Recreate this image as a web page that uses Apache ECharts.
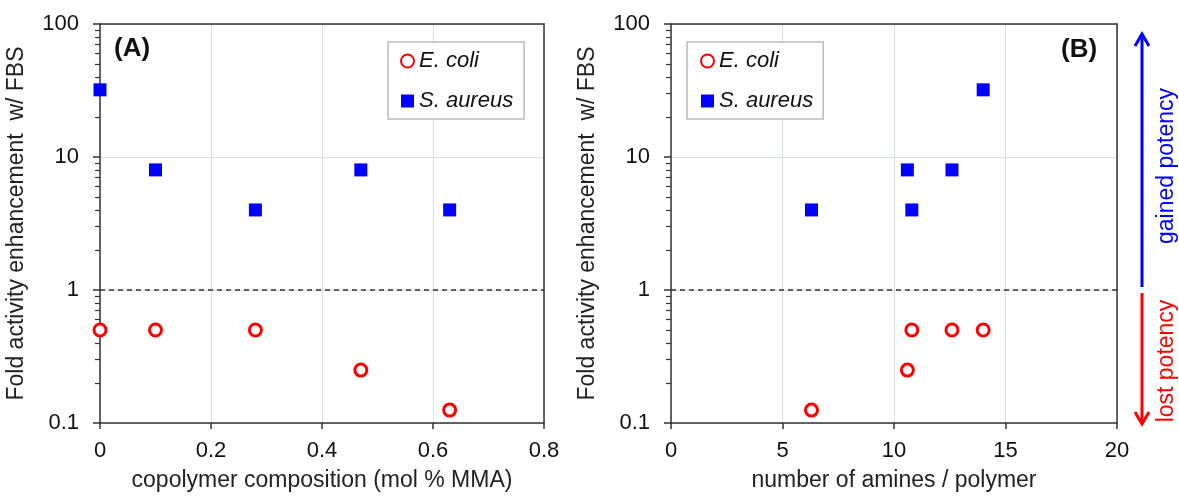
<!DOCTYPE html>
<html>
<head>
<meta charset="utf-8">
<script src="https://cdn.jsdelivr.net/npm/echarts@6/dist/echarts.min.js"></script>
<style>
  html, body { margin: 0; padding: 0; background: #fff; }
  #chart { width: 1179px; height: 497px; }
</style>
</head>
<body>
<div id="chart"></div>
<script>
// data
const compMMA = [0, 0.1, 0.28, 0.47, 0.63]      // mol % MMA (panel A)
const amines = [14.0, 12.6, 10.8, 10.6, 6.3]     // amines / polymer (panel B)
const ecoliFold = [0.5, 0.5, 0.5, 0.25, 0.125]
const saureusFold = [32, 8, 4, 8, 4]

const FONT = "'Liberation Sans', Arial, sans-serif"
const AXIS_COLOR = '#333'

const pairs = (xs, ys) => xs.map((x, i) => [x, ys[i]])

const chart = echarts.init(document.getElementById('chart'))

const xAxisBase = (gridIndex, min, max, interval, name) => ({
  type: 'value',
  gridIndex: gridIndex,
  position: 'bottom',
  min: min,
  max: max,
  interval: interval,
  name: name,
  nameLocation: 'middle',
  nameGap: 46,
  nameTextStyle: { fontSize: 23, color: '#222', fontFamily: FONT },
  axisLine: { show: true, onZero: false, lineStyle: { color: AXIS_COLOR, width: 1.5 } },
  axisTick: { show: true, length: 6, lineStyle: { color: AXIS_COLOR, width: 1.5 } },
  axisLabel: { fontSize: 22, color: '#111', fontFamily: FONT, margin: 17 }
})

// log axis, minor ticks 2..9 in each decade
const yAxisBase = (gridIndex) => ({
  type: 'log',
  gridIndex: gridIndex,
  position: 'left',
  logBase: 10,
  min: 0.1,
  max: 100,
  name: 'Fold activity enhancement  w/ FBS',
  nameLocation: 'middle',
  nameGap: 72,
  nameTextStyle: { fontSize: 23, color: '#222', fontFamily: FONT },
  axisLine: { show: true, lineStyle: { color: AXIS_COLOR, width: 1.5 } },
  axisTick: { show: true, length: 7, lineStyle: { color: AXIS_COLOR, width: 1.5 } },
  minorTick: { show: true, splitNumber: 9, length: 5, lineStyle: { color: AXIS_COLOR, width: 1.2 } },
  axisLabel: { fontSize: 22, color: '#111', fontFamily: FONT, margin: 21 }
})

// plain axes on the top and right side to close the frame
const xFrame = (gridIndex, min, max) => ({
  type: 'value', gridIndex: gridIndex, position: 'top', min: min, max: max,
  axisLine: { show: true, onZero: false, lineStyle: { color: AXIS_COLOR, width: 1.5 } },
  axisTick: { show: false }, axisLabel: { show: false }, splitLine: { show: false }
})
const yFrame = (gridIndex) => ({
  type: 'log', gridIndex: gridIndex, position: 'right', min: 0.1, max: 100,
  axisLine: { show: true, onZero: false, lineStyle: { color: AXIS_COLOR, width: 1.5 } },
  axisTick: { show: false }, axisLabel: { show: false }, splitLine: { show: false }
})

const ecoliStyle = {
  symbol: 'circle',
  symbolSize: 12,
  itemStyle: { color: '#fff', borderColor: '#ff0000', borderWidth: 3, opacity: 1 }
}
const saureusStyle = {
  symbol: 'rect',
  symbolSize: 13,
  itemStyle: { color: '#0000ff', opacity: 1 }
}

const refLine = {
  silent: true,
  symbol: 'none',
  label: { show: false },
  lineStyle: { color: AXIS_COLOR, type: [5, 4], width: 1.5 },
  data: [{ yAxis: 1 }]
}

const legendBase = {
  orient: 'vertical',
  top: 42,
  itemWidth: 13,
  itemHeight: 13,
  itemGap: 16,
  backgroundColor: '#fff',
  borderColor: '#bbb',
  borderWidth: 1.5,
  borderRadius: 0,
  textStyle: { fontSize: 22, fontStyle: 'italic', color: '#111', fontFamily: FONT, lineHeight: 24 },
  data: ['E. coli', 'S. aureus']
}

const option = {
  animation: false,
  backgroundColor: '#fff',
  textStyle: { fontFamily: FONT },
  grid: [
    { left: 100, top: 24, width: 444, height: 402 },
    { left: 671, top: 24, width: 446, height: 402 }
  ],
  xAxis: [
    xAxisBase(0, 0, 0.8, 0.2, 'copolymer composition (mol % MMA)'),
    xAxisBase(1, 0, 20, 5, 'number of amines / polymer'),
    xFrame(0, 0, 0.8),
    xFrame(1, 0, 20)
  ],
  yAxis: [yAxisBase(0), yAxisBase(1), yFrame(0), yFrame(1)],
  legend: [
    Object.assign({}, legendBase, { left: 388, padding: [7, 11, 6, 12] }),
    Object.assign({}, legendBase, { left: 687, padding: [7, 10, 6, 13] })
  ],
  series: [
    Object.assign({ name: 'E. coli', type: 'scatter', xAxisIndex: 0, yAxisIndex: 0, clip: false, z: 3,
      data: pairs(compMMA, ecoliFold), markLine: refLine }, ecoliStyle),
    Object.assign({ name: 'S. aureus', type: 'scatter', xAxisIndex: 0, yAxisIndex: 0, clip: false, z: 3,
      data: pairs(compMMA, saureusFold) }, saureusStyle),
    Object.assign({ name: 'E. coli', type: 'scatter', xAxisIndex: 1, yAxisIndex: 1, clip: false, z: 3,
      data: pairs(amines, ecoliFold), markLine: refLine }, ecoliStyle),
    Object.assign({ name: 'S. aureus', type: 'scatter', xAxisIndex: 1, yAxisIndex: 1, clip: false, z: 3,
      data: pairs(amines, saureusFold) }, saureusStyle)
  ],
  graphic: [
    // panel letters
    { type: 'text', left: 114, top: 36, style: { text: '(A)', fontSize: 26, fontWeight: 'bold', fill: '#111', fontFamily: FONT } },
    { type: 'text', left: 1061, top: 37, style: { text: '(B)', fontSize: 26, fontWeight: 'bold', fill: '#111', fontFamily: FONT } },
    // gained / lost potency arrows
    { type: 'line', shape: { x1: 1142, y1: 35, x2: 1142, y2: 287 }, style: { stroke: '#0000ff', lineWidth: 3 } },
    { type: 'polyline', shape: { points: [[1135, 46], [1142, 34], [1149, 46]] }, style: { stroke: '#0000ff', lineWidth: 3, fill: null } },
    { type: 'line', shape: { x1: 1142, y1: 293, x2: 1142, y2: 423 }, style: { stroke: '#ff0000', lineWidth: 3 } },
    { type: 'polyline', shape: { points: [[1135, 412], [1142, 424], [1149, 412]] }, style: { stroke: '#ff0000', lineWidth: 3, fill: null } },
    { type: 'text', x: 1167, y: 166, rotation: Math.PI / 2,
      style: { text: 'gained potency', fontSize: 23, fill: '#0000ff', fontFamily: FONT, align: 'center', verticalAlign: 'middle' } },
    { type: 'text', x: 1167, y: 361, rotation: Math.PI / 2,
      style: { text: 'lost potency', fontSize: 23, fill: '#ff0000', fontFamily: FONT, align: 'center', verticalAlign: 'middle' } }
  ]
}

chart.setOption(option)
</script>
</body>
</html>
